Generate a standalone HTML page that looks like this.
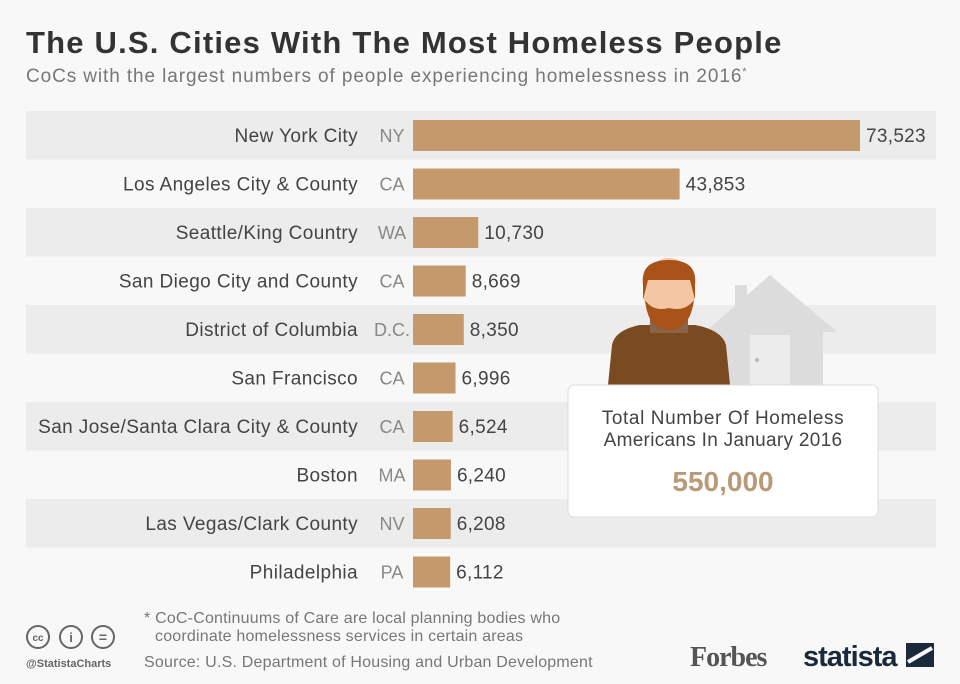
<!DOCTYPE html>
<html><head><meta charset="utf-8"><style>
body{margin:0;background:#f8f8f8;}
svg{display:block;font-family:"Liberation Sans",sans-serif;}
</style></head><body>
<svg id="c" width="960" height="684" viewBox="0 0 960 684">
<rect width="960" height="684" fill="#f8f8f8"/>
<text x="26" y="53" font-size="31" font-weight="bold" fill="#333" letter-spacing="1.2">The U.S. Cities With The Most Homeless People</text>
<text x="26" y="82" font-size="19" fill="#777" letter-spacing="0.9">CoCs with the largest numbers of people experiencing homelessness in 2016<tspan font-size="11" dy="-7">*</tspan></text>
<g id="rows"></g>
<g>
<polygon points="705,332 770,275 837,332" fill="#dcdcdc"/>
<rect x="735" y="285" width="12" height="25" fill="#dcdcdc"/>
<rect x="718" y="330" width="105" height="60" fill="#dcdcdc"/>
<rect x="750" y="335" width="40" height="55" fill="#ececec"/>
<circle cx="757" cy="360" r="2" fill="#bbb"/>
<path d="M608,385 L612,345 Q615,330 640,325 L695,325 Q722,330 726,345 L730,385 Z" fill="#7a4a20"/>
<rect x="650" y="315" width="38" height="18" fill="#8a6448"/>
<ellipse cx="669" cy="290" rx="26" ry="32" fill="#f3c7a4"/>
<path d="M643,285 Q640,260 669,260 Q698,260 695,285 L695,300 L690,280 L648,280 L643,300 Z" fill="#a9531b"/>
<path d="M645,300 Q648,330 669,330 Q690,330 694,300 Q685,312 669,308 Q653,312 645,300 Z" fill="#a9531b"/>
</g>
<rect x="568" y="385" width="310" height="132" rx="6" fill="#fff" stroke="#ddd"/>
<text x="723" y="424" font-size="19" fill="#444" text-anchor="middle" letter-spacing="0.6">Total Number Of Homeless</text>
<text x="723" y="446" font-size="19" fill="#444" text-anchor="middle" letter-spacing="0.3">Americans In January 2016</text>
<text x="723" y="491" font-size="28" font-weight="bold" fill="#b89a78" text-anchor="middle">550,000</text>
<text x="144" y="623" font-size="16" fill="#777" letter-spacing="0.2">* CoC-Continuums of Care are local planning bodies who</text>
<text x="155" y="641" font-size="16" fill="#777" letter-spacing="0.2">coordinate homelessness services in certain areas</text>
<text x="144" y="667" font-size="16" fill="#777" letter-spacing="0.2">Source: U.S. Department of Housing and Urban Development</text>
<g fill="none" stroke="#666" stroke-width="2">
<circle cx="38" cy="637" r="11"/><circle cx="71" cy="637" r="11"/><circle cx="103" cy="637" r="11"/>
</g>
<text x="38" y="641" font-size="10" fill="#666" text-anchor="middle" font-weight="bold">cc</text>
<text x="71" y="642" font-size="13" fill="#666" text-anchor="middle" font-weight="bold">i</text>
<text x="103" y="642" font-size="14" fill="#666" text-anchor="middle" font-weight="bold">=</text>
<text x="26" y="667" font-size="11" fill="#666" font-weight="bold">@StatistaCharts</text>
<text x="690" y="666" font-size="28" font-family="Liberation Serif,serif" font-weight="bold" fill="#555" letter-spacing="-1">Forbes</text>
<text x="803" y="666" font-size="29" font-weight="bold" fill="#1a2a3a" letter-spacing="-1">statista</text>
<rect x="906" y="643" width="28" height="24" fill="#1a2a3a"/>
<path d="M908,662 L932,648" stroke="#f8f8f8" stroke-width="4"/>
</svg>
<script>
const cities=["New York City","Los Angeles City & County","Seattle/King Country","San Diego City and County","District of Columbia","San Francisco","San Jose/Santa Clara City & County","Boston","Las Vegas/Clark County","Philadelphia"];
const states=["NY","CA","WA","CA","D.C.","CA","CA","MA","NV","PA"];
const values=[73523,43853,10730,8669,8350,6996,6524,6240,6208,6112];
(function(){
const NS="http://www.w3.org/2000/svg";
const g=document.getElementById('rows');
const x0=413, scale=447/73523, y0=111, pitch=48.5;
function xs(v){return v*scale;}
function mk(t,a){const e=document.createElementNS(NS,t);for(const k in a)e.setAttribute(k,a[k]);g.appendChild(e);return e;}
values.forEach((v,i)=>{
 const y=y0+i*pitch;
 if(i%2===0){const b=mk('rect',{x:26,y:y,width:910,height:pitch,fill:'#ececec'});
 
 }
 const r=mk('rect',{x:x0,y:y+9,width:xs(v),height:31,fill:'#c49a6c'});
 
 
 const c=mk('text',{x:358,y:y+31,'font-size':19,fill:'#444','text-anchor':'end','letter-spacing':0.4});c.textContent=cities[i];
 
 
 const s=mk('text',{x:392,y:y+31,'font-size':18,fill:'#888','text-anchor':'middle'});s.textContent=states[i];
 
 
 const l=mk('text',{x:x0+xs(v)+6,y:y+31,'font-size':19,fill:'#444','letter-spacing':0.3});l.textContent=v.toLocaleString('en-US');
 
 
});
})();
</script>
</body></html>
